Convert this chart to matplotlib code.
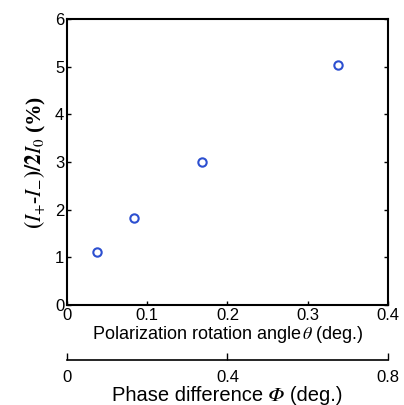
import matplotlib
matplotlib.use("Agg")
import matplotlib.pyplot as plt

theta = [0.037, 0.084, 0.168, 0.338]
ratio = [1.11, 1.82, 3.00, 5.04]
x_ticks = [0, 0.1, 0.2, 0.3, 0.4]
x_ticklabels = ["0", "0.1", "0.2", "0.3", "0.4"]
y_ticks = [0, 1, 2, 3, 4, 5, 6]
phi_ticks = [0, 0.4, 0.8]
phi_ticklabels = ["0", "0.4", "0.8"]

plt.rcParams['font.family'] = ['Liberation Sans', 'DejaVu Sans', 'STIXGeneral']
plt.rcParams['mathtext.fontset'] = 'stix'

fig = plt.figure(figsize=(4.04, 4.05), dpi=100)
ax = fig.add_axes([0.166, 0.247, 0.794, 0.706])
ax.plot(theta, ratio, 'o', mfc='none', mec='#2c4fd0', mew=1.5, ms=6)
ax.set_xlim(0, 0.4)
ax.set_ylim(0, 6)
ax.set_xticks(x_ticks)
ax.set_xticklabels(x_ticklabels)
ax.set_yticks(y_ticks)
for s in ax.spines.values():
    s.set_linewidth(1.5)
ax.tick_params(direction='in', top=True, right=True, length=3, width=1,
               labelsize=12, pad=2)
ax.set_xlabel(r"Polarization rotation angle$\,\theta$ (deg.)", fontsize=13, labelpad=1)
ax.set_ylabel(r"$\mathbf{(}I_{+}$-$I_{-}\mathbf{)/2}I_{0}$ (%)", fontsize=15.5,
              fontfamily='Liberation Serif', fontweight='bold', labelpad=5)

ax2 = ax.twiny()
ax2.set_xlim(0, 0.8)
ax2.set_xticks(phi_ticks)
ax2.set_xticklabels(phi_ticklabels)
ax2.xaxis.set_ticks_position('bottom')
ax2.xaxis.set_label_position('bottom')
ax2.spines['bottom'].set_position(('outward', 39.6))
ax2.spines['bottom'].set_linewidth(1.2)
for k in ['top', 'left', 'right']:
    ax2.spines[k].set_visible(False)
ax2.tick_params(axis='x', direction='in', length=5, width=1, labelsize=12, pad=7)
ax2.set_xlabel("Phase difference \U0001D6F7 (deg.)", fontsize=14.5, labelpad=1)

fig.savefig("out.png", dpi=100)
